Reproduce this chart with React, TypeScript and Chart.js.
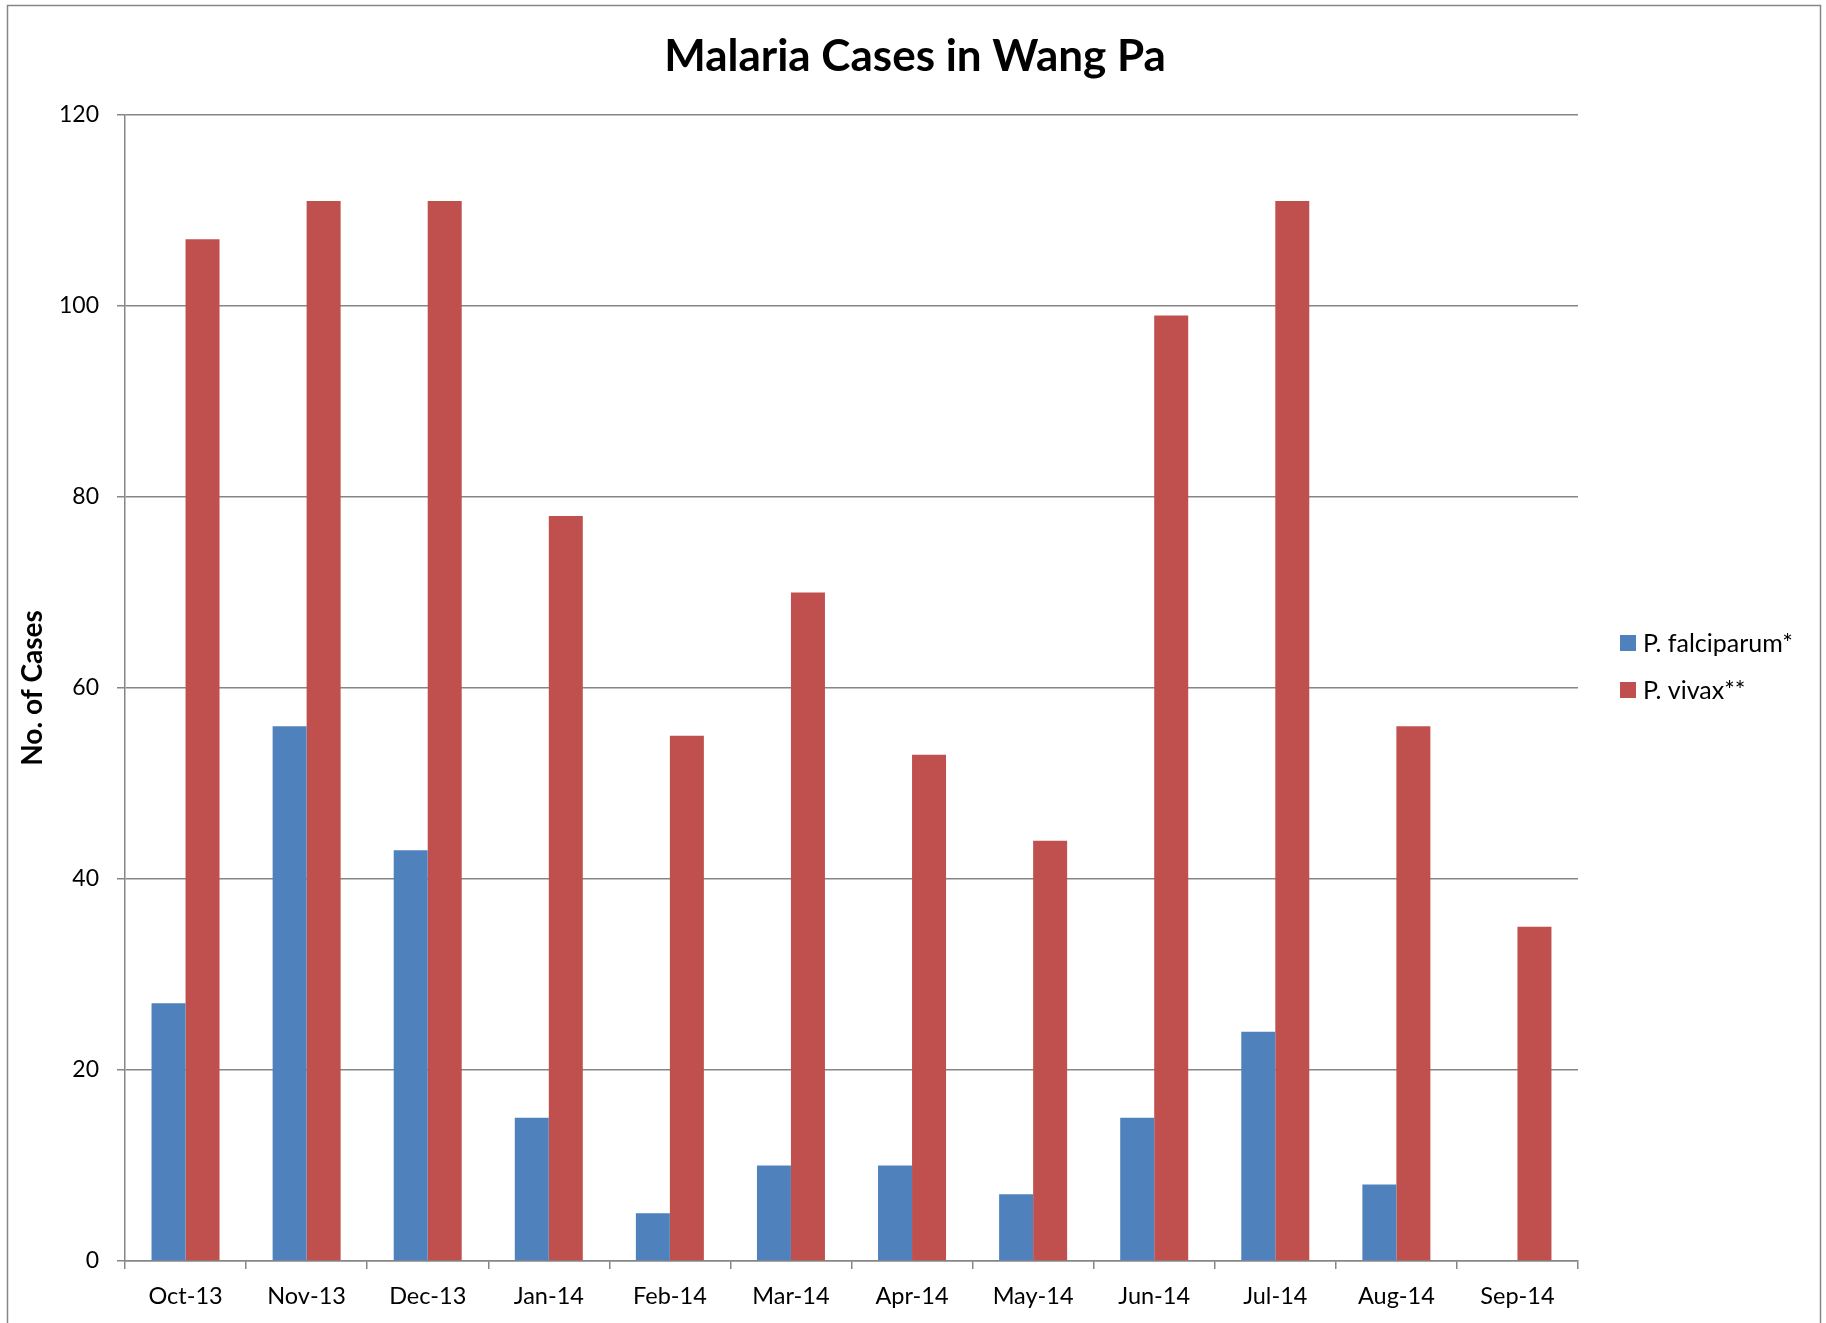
import React, { useEffect, useRef } from 'react';
import { Chart, registerables } from 'chart.js';

Chart.register(...registerables);

const categories = ['Oct-13', 'Nov-13', 'Dec-13', 'Jan-14', 'Feb-14', 'Mar-14', 'Apr-14', 'May-14', 'Jun-14', 'Jul-14', 'Aug-14', 'Sep-14'];
const falciparum = [27, 56, 43, 15, 5, 10, 10, 7, 15, 24, 8, 0];
const vivax = [107, 111, 111, 78, 55, 70, 53, 44, 99, 111, 56, 35];
const seriesNames = ['P. falciparum*', 'P. vivax**'];
const seriesColors = ['#4F81BD', '#C0504D'];
const yMin = 0;
const yMax = 120;
const yStep = 20;
const titleText = 'Malaria Cases in Wang Pa';
const yTitleText = 'No. of Cases';

const FONT = 'Lato, "Open Sans", sans-serif';
const GRID = '#868686';

const W = 1826;
const H = 1323;

const framePlugin = {
  id: 'frame',
  beforeDraw(chart: any) {
    const ctx = chart.ctx;
    ctx.save();
    ctx.fillStyle = '#ffffff';
    ctx.fillRect(0, 0, W, H);
    ctx.strokeStyle = GRID;
    ctx.lineWidth = 1.5;
    ctx.strokeRect(7.5, 5.5, 1813, 1400);
    ctx.restore();
  },
};

const customTitleAndLegend = {
  id: 'customTitleAndLegend',
  afterDraw(chart: any) {
    const ctx = chart.ctx;
    ctx.save();
    // title
    ctx.font = `bold 44px ${FONT}`;
    ctx.textBaseline = 'middle';
    ctx.textAlign = 'center';
    ctx.fillStyle = '#000000';
    ctx.fillText(titleText, 915, 57);
    // legend
    ctx.font = `25px ${FONT}`;
    ctx.textAlign = 'left';
    chart.data.datasets.forEach((ds: any, i: number) => {
      const cy = 643 + i * 47;
      ctx.fillStyle = ds.backgroundColor;
      ctx.fillRect(1620, cy - 8, 16, 16);
      ctx.fillStyle = '#000000';
      ctx.fillText(ds.label, 1643, cy + 1);
    });
    ctx.restore();
  },
};

export default function App() {
  const ref = useRef<HTMLCanvasElement | null>(null);

  useEffect(() => {
    if (!ref.current) return;
    const chart = new Chart(ref.current, {
      type: 'bar',
      data: {
        labels: categories,
        datasets: [
          { label: seriesNames[0], data: falciparum, backgroundColor: seriesColors[0], borderWidth: 0 },
          { label: seriesNames[1], data: vivax, backgroundColor: seriesColors[1], borderWidth: 0 },
        ],
      },
      options: {
        animation: false,
        responsive: false,
        devicePixelRatio: 1,
        layout: { padding: { left: 8, right: 248, top: 115, bottom: 0 } },
        datasets: {
          bar: { categoryPercentage: 0.5616, barPercentage: 1 },
        },
        plugins: {
          legend: { display: false },
          tooltip: { enabled: false },
          title: { display: false },
        },
        scales: {
          x: {
            grid: { display: true, drawOnChartArea: false, drawTicks: true, tickLength: 8, color: GRID, lineWidth: 1.5, offset: true },
            border: { display: true, color: GRID, width: 1.5 },
            ticks: { color: '#000000', font: { family: FONT, size: 23.5 }, padding: 13, maxRotation: 0, autoSkip: false },
            afterFit: (scale: any) => { scale.height = 62; },
          },
          y: {
            min: yMin,
            max: yMax,
            ticks: { stepSize: yStep, color: '#000000', font: { family: FONT, size: 23 }, padding: 18 },
            grid: { color: GRID, lineWidth: 1.5, tickLength: 8, drawTicks: true },
            border: { display: true, color: GRID, width: 1.5 },
            title: {
              display: true,
              text: yTitleText,
              color: '#000000',
              font: { family: FONT, size: 28, weight: 'bold', lineHeight: 1.2 },
              padding: { top: 8, bottom: 0 },
            },
            afterFit: (scale: any) => { scale.width = 117; },
          },
        },
      },
      plugins: [framePlugin, customTitleAndLegend],
    } as any);
    return () => chart.destroy();
  }, []);

  return (
    <div style={{ position: 'fixed', left: 0, top: 0, width: W, height: H, overflow: 'hidden', background: '#ffffff' }}>
      <canvas ref={ref} width={W} height={H} style={{ display: 'block', width: W, height: H }} />
    </div>
  );
}
